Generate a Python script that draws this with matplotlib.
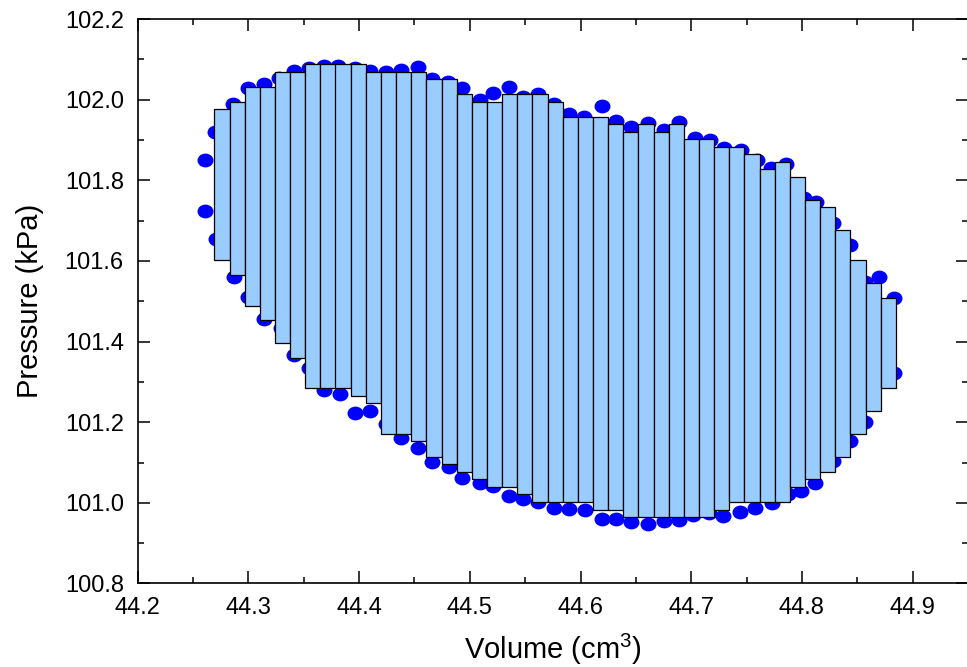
import matplotlib
matplotlib.use("Agg")
import matplotlib.pyplot as plt
from matplotlib.path import Path
from matplotlib.transforms import Affine2D
from matplotlib.ticker import MultipleLocator, FormatStrFormatter

plt.rcParams['font.family'] = ['Liberation Sans', 'DejaVu Sans']
plt.rcParams['mathtext.fontset'] = 'custom'
plt.rcParams['mathtext.rm'] = 'Liberation Sans'
plt.rcParams['mathtext.default'] = 'regular'

# measured P-V points (volume cm3, pressure kPa), upper branch then lower branch
vol_pts = [44.261, 44.270, 44.286, 44.300, 44.314, 44.328, 44.341, 44.355, 44.368, 44.381,
           44.396, 44.410, 44.424, 44.438, 44.453, 44.466, 44.480, 44.493, 44.509, 44.521,
           44.535, 44.548, 44.562, 44.576, 44.590, 44.603, 44.619, 44.632, 44.646, 44.661,
           44.675, 44.689, 44.703, 44.717, 44.730, 44.745, 44.759, 44.772, 44.786, 44.802,
           44.813, 44.828, 44.843, 44.857, 44.870, 44.883, 44.883,
           44.857, 44.843, 44.828, 44.812, 44.799, 44.787, 44.773, 44.758, 44.744, 44.729,
           44.716, 44.702, 44.689, 44.675, 44.661, 44.646, 44.632, 44.619, 44.604, 44.590,
           44.576, 44.562, 44.548, 44.535, 44.521, 44.509, 44.493, 44.481, 44.466, 44.453,
           44.438, 44.424, 44.410, 44.396, 44.383, 44.368, 44.355, 44.341, 44.329, 44.314,
           44.300, 44.287, 44.271, 44.261]
pres_pts = [101.850, 101.920, 101.989, 102.029, 102.039, 102.054, 102.071, 102.078, 102.083, 102.083,
            102.078, 102.071, 102.069, 102.074, 102.081, 102.051, 102.044, 102.029, 101.999, 102.016,
            102.031, 102.007, 102.014, 101.989, 101.964, 101.957, 101.984, 101.947, 101.932, 101.942,
            101.925, 101.945, 101.905, 101.900, 101.880, 101.875, 101.850, 101.830, 101.840, 101.756,
            101.746, 101.694, 101.640, 101.548, 101.560, 101.508, 101.322,
            101.201, 101.153, 101.104, 101.049, 101.029, 101.022, 101.000, 100.987, 100.977, 100.967,
            100.975, 100.970, 100.958, 100.955, 100.948, 100.953, 100.960, 100.960, 100.982, 100.985,
            100.987, 101.002, 101.010, 101.017, 101.042, 101.049, 101.062, 101.089, 101.101, 101.136,
            101.161, 101.196, 101.228, 101.223, 101.270, 101.280, 101.335, 101.367, 101.434, 101.456,
            101.511, 101.560, 101.654, 101.724]

# floating bars: volume bin centres, top and bottom pressure
bar_vol = [44.2761, 44.2898, 44.3035, 44.3171, 44.3308, 44.3445, 44.3582, 44.3719, 44.3855,
           44.3992, 44.4129, 44.4266, 44.4403, 44.4539, 44.4676, 44.4813, 44.4950, 44.5087,
           44.5223, 44.5360, 44.5497, 44.5634, 44.5771, 44.5907, 44.6044, 44.6181, 44.6318,
           44.6455, 44.6591, 44.6728, 44.6865, 44.7002, 44.7139, 44.7275, 44.7412, 44.7549,
           44.7686, 44.7823, 44.7959, 44.8096, 44.8233, 44.8370, 44.8507, 44.8643, 44.8780]
bar_top = [101.977, 101.995, 102.032, 102.032, 102.069, 102.069, 102.089, 102.089, 102.089,
           102.089, 102.069, 102.069, 102.069, 102.069, 102.051, 102.051, 102.014, 101.995,
           101.995, 102.014, 102.014, 102.014, 101.995, 101.958, 101.958, 101.958, 101.939,
           101.920, 101.939, 101.920, 101.939, 101.902, 101.902, 101.883, 101.883, 101.864,
           101.827, 101.845, 101.807, 101.752, 101.733, 101.677, 101.602, 101.545, 101.508]
bar_bottom = [101.602, 101.564, 101.489, 101.454, 101.396, 101.359, 101.284, 101.284, 101.284,
              101.264, 101.247, 101.171, 101.171, 101.153, 101.114, 101.096, 101.077, 101.058,
              101.039, 101.039, 101.021, 101.001, 101.001, 101.001, 101.001, 100.983, 100.983,
              100.965, 100.965, 100.965, 100.965, 100.965, 100.965, 100.983, 101.001, 101.001,
              101.001, 101.001, 101.039, 101.058, 101.077, 101.114, 101.170, 101.227, 101.284]
bar_width = 0.01368

fig = plt.figure(figsize=(9.67, 6.67), dpi=100)
ax = fig.add_axes([0.1424, 0.1252, 0.8586, 0.8463])

# slightly flattened dots, like the original
ellipse = Path.unit_circle().transformed(Affine2D().scale(1.0, 0.85))
ax.plot(vol_pts, pres_pts, linestyle='none', marker=ellipse, markersize=10.5,
        color='#0000ff', zorder=2)

heights = [t - b for t, b in zip(bar_top, bar_bottom)]
ax.bar(bar_vol, heights, bottom=bar_bottom, width=bar_width, color='#99ccff',
       edgecolor='black', linewidth=0.9, zorder=3)

ax.set_xlim(44.2, 44.95)
ax.set_ylim(100.8, 102.2)
ax.xaxis.set_major_locator(MultipleLocator(0.1))
ax.xaxis.set_minor_locator(MultipleLocator(0.05))
ax.yaxis.set_major_locator(MultipleLocator(0.2))
ax.yaxis.set_minor_locator(MultipleLocator(0.1))
ax.xaxis.set_major_formatter(FormatStrFormatter('%.1f'))
ax.yaxis.set_major_formatter(FormatStrFormatter('%.1f'))

ax.tick_params(which='both', direction='in', top=True, right=True, width=1.1,
               labelsize=17, pad=10)
ax.tick_params(which='major', length=8.5)
ax.tick_params(which='minor', length=4)
for s in ax.spines.values():
    s.set_linewidth(1.2)

ax.set_xlabel('Volume (cm$^3$)', fontsize=21)
ax.set_ylabel('Pressure (kPa)', fontsize=21)
ax.xaxis.set_label_coords(0.5, -0.085)
ax.xaxis.label.set_va('top')
ax.yaxis.set_label_coords(-0.13, 0.5)
ax.yaxis.label.set_va('center')

fig.savefig('out.png', dpi=100)
